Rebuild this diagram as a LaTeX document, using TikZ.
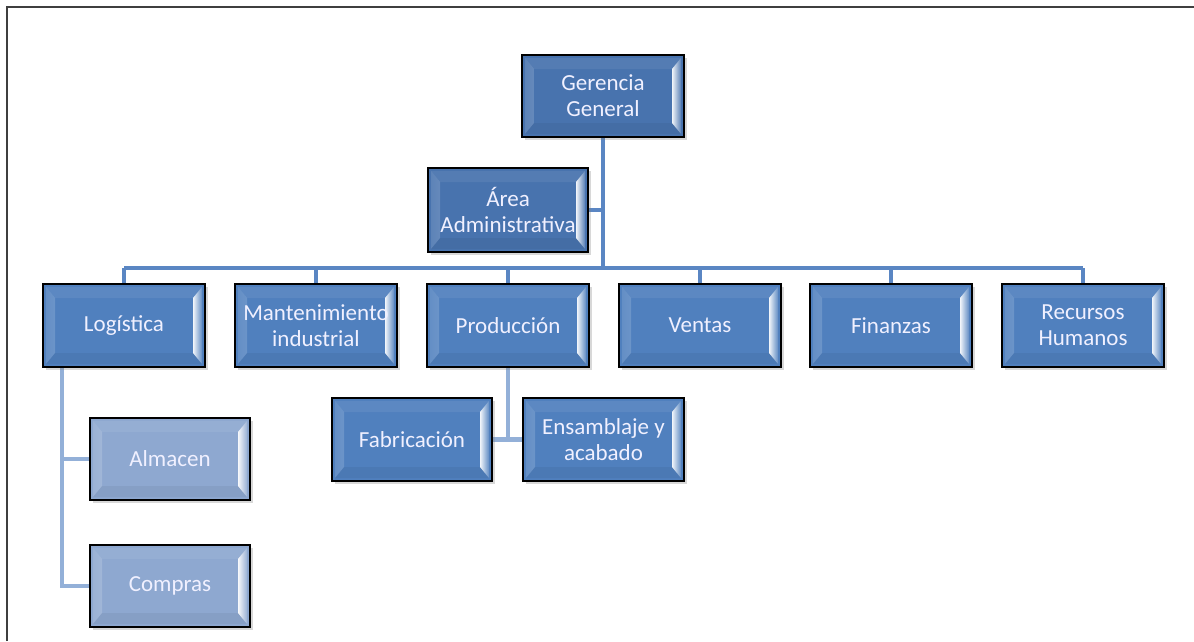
\documentclass[tikz,border=0pt]{standalone}
\usepackage{fontspec}
\setmainfont{Carlito}
\usetikzlibrary{shadows,calc,backgrounds}
\definecolor{topblue}{HTML}{4873AE}
\definecolor{midblue}{HTML}{5080BE}
\definecolor{paleblue}{HTML}{8EA8D0}
\definecolor{linkblue}{HTML}{5A86C3}
\definecolor{sublink}{HTML}{93B0D8}
\definecolor{framegray}{HTML}{3F3F3F}
\tikzset{
  orgbox/.style={
    draw=black, line width=1.6pt, fill=#1,
    text=white!94!blue, align=center, inner sep=2pt,
    font=\fontsize{23}{26}\selectfont,
    drop shadow={shadow xshift=2.5pt, shadow yshift=-2.5pt, opacity=0.3},
    path picture={
      % bevelled highlight strips on the left and right inner edges
      \shade[left color=#1!90!white, right color=white!92!#1]
        ($(path picture bounding box.north west)+(3pt,-3pt)$) --
        ($(path picture bounding box.north west)+(12pt,-14pt)$) --
        ($(path picture bounding box.south west)+(12pt,14pt)$) --
        ($(path picture bounding box.south west)+(3pt,3pt)$) -- cycle;
      \shade[left color=white!92!#1, right color=#1!90!white]
        ($(path picture bounding box.north east)+(-12pt,-14pt)$) --
        ($(path picture bounding box.north east)+(-3pt,-3pt)$) --
        ($(path picture bounding box.south east)+(-3pt,3pt)$) --
        ($(path picture bounding box.south east)+(-12pt,14pt)$) -- cycle;
      \fill[white,opacity=0.07]
        ($(path picture bounding box.north west)+(3pt,-3pt)$) --
        ($(path picture bounding box.north east)+(-3pt,-3pt)$) --
        ($(path picture bounding box.north east)+(-12pt,-14pt)$) --
        ($(path picture bounding box.north west)+(12pt,-14pt)$) -- cycle;
      \fill[black,opacity=0.05]
        ($(path picture bounding box.south west)+(3pt,3pt)$) --
        ($(path picture bounding box.south east)+(-3pt,3pt)$) --
        ($(path picture bounding box.south east)+(-12pt,14pt)$) --
        ($(path picture bounding box.south west)+(12pt,14pt)$) -- cycle;
    }
  },
  wide/.style={minimum width=162pt, minimum height=83pt},
  link/.style={draw=linkblue, line width=4pt},
  sublinkline/.style={draw=sublink, line width=4.5pt},
}
\begin{document}
\begin{tikzpicture}[x=1pt,y=-1pt]
\useasboundingbox (0,0) rectangle (1194,641);

\coordinate (bus) at (603,268);
\coordinate (logL) at (124,268);
\coordinate (rhR) at (1083,268);

% boxes
\node[orgbox=topblue, wide, minimum height=82pt] (gg) at (603,96) {Gerencia\\General};
\node[orgbox=topblue, wide, minimum width=160pt, minimum height=84pt] (aa) at (508,210) {Área\\Administrativa};

\node[orgbox=midblue, wide] (log) at (124,325.5) {Logística};
\node[orgbox=midblue, wide] (man) at (316,325.5) {Mantenimiento\\industrial};
\node[orgbox=midblue, wide] (pro) at (508,325.5) {Producción};
\node[orgbox=midblue, wide] (ven) at (700,325.5) {Ventas};
\node[orgbox=midblue, wide] (fin) at (891,325.5) {Finanzas};
\node[orgbox=midblue, wide] (rh) at (1083,325.5) {Recursos\\Humanos};

\node[orgbox=midblue, wide, minimum width=160pt] (fab) at (412,439.5) {Fabricación};
\node[orgbox=midblue, wide, minimum width=161pt] (ens) at (603.5,439.5) {Ensamblaje y\\acabado};

\node[orgbox=paleblue, wide, minimum width=160pt, minimum height=82pt] (alm) at (170,459) {Almacen};
\node[orgbox=paleblue, wide, minimum width=160pt, minimum height=82pt] (com) at (170,586) {Compras};

% page, frame and connectors sit beneath the boxes
\begin{pgfonlayer}{background}
\fill[white] (0,0) rectangle (1194,641);
\draw[framegray, line width=2pt] (7,641) -- (7,7) -- (1194,7);

\draw[link] (gg.south) -- (bus);
\draw[link] (aa.east) -- (aa.east -| bus);
\draw[link] (logL) -- (rhR);
\foreach \n in {log,man,pro,ven,fin,rh}
  \draw[link] (\n.north) -- (\n.north |- bus);

\coordinate (lv) at ($(log.south west)+(20,0)$);
\draw[sublinkline] (lv) |- (com.west);
\draw[sublinkline] (lv |- alm.west) -- (alm.west);
\draw[sublinkline] (pro.south) -- (pro.south |- fab.east);
\draw[sublinkline] (fab.east) -- (ens.west);
\end{pgfonlayer}
\end{tikzpicture}
\end{document}
